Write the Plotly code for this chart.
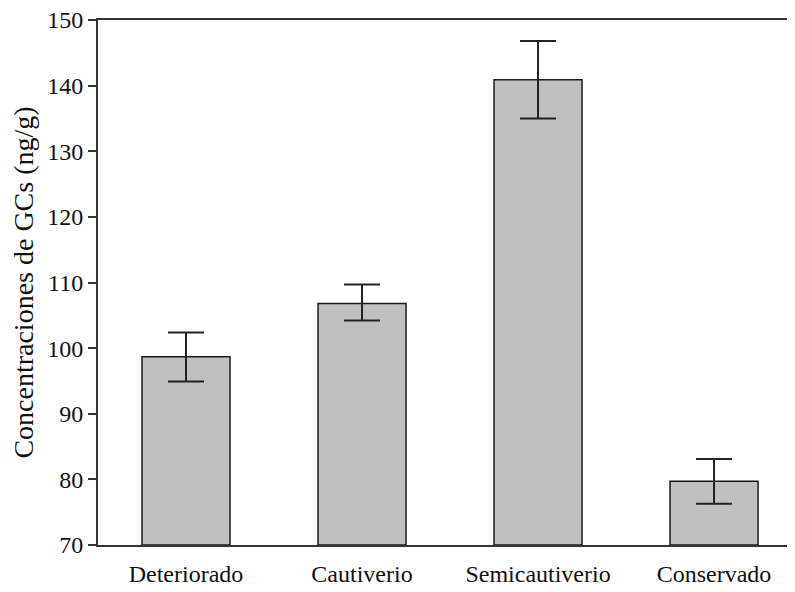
import plotly.graph_objects as go

categories = ["Deteriorado", "Cautiverio", "Semicautiverio", "Conservado"]
means = [98.7, 106.8, 140.9, 79.7]
err_plus = [3.7, 2.9, 5.9, 3.4]
err_minus = [3.8, 2.6, 5.9, 3.4]
y_ticks = [70, 80, 90, 100, 110, 120, 130, 140, 150]

font_family = "Liberation Serif, Times New Roman, serif"

fig = go.Figure()
fig.add_trace(go.Bar(
    x=categories,
    y=[m - 70 for m in means],
    base=70,
    width=0.5,
    marker=dict(color="#c0c0c0", line=dict(color="#1a1a1a", width=1.5)),
    error_y=dict(type="data", symmetric=False, array=err_plus, arrayminus=err_minus,
                 color="#222222", thickness=2, width=18),
    showlegend=False,
))

fig.update_layout(
    width=787, height=584,
    margin=dict(l=90, r=0, t=12, b=47),
    paper_bgcolor="white", plot_bgcolor="white",
    font=dict(family=font_family, color="#111111"),
    bargap=0.5,
    xaxis=dict(range=[-0.5, 3.46], showline=True, linecolor="#333333", linewidth=2,
               ticks="", showgrid=False, zeroline=False, ticklabelstandoff=6,
               automargin=False,
               tickfont=dict(size=24, family=font_family, color="#111111")),
    xaxis2=dict(overlaying="x", side="top", range=[-0.5, 3.46], showline=True,
                linecolor="#333333", linewidth=2, showticklabels=False, ticks="",
                showgrid=False, zeroline=False, automargin=False),
    yaxis=dict(range=[70, 150], tickvals=y_ticks, showline=True, linecolor="#333333",
               linewidth=2, ticks="outside", ticklen=8, tickwidth=2, tickcolor="#333333",
               showgrid=False, zeroline=False, ticklabeloverflow="allow",
               automargin=False,
               tickfont=dict(size=24, family=font_family, color="#111111"),
               title=dict(text="Concentraciones de GCs (ng/g)", standoff=8,
                          font=dict(size=28, family=font_family, color="#111111"))),
)
# invisible trace to activate top axis line
fig.add_trace(go.Scatter(x=[categories[0]], y=[None], xaxis="x2", showlegend=False,
                         hoverinfo="skip"))

fig.write_html("out.html")
